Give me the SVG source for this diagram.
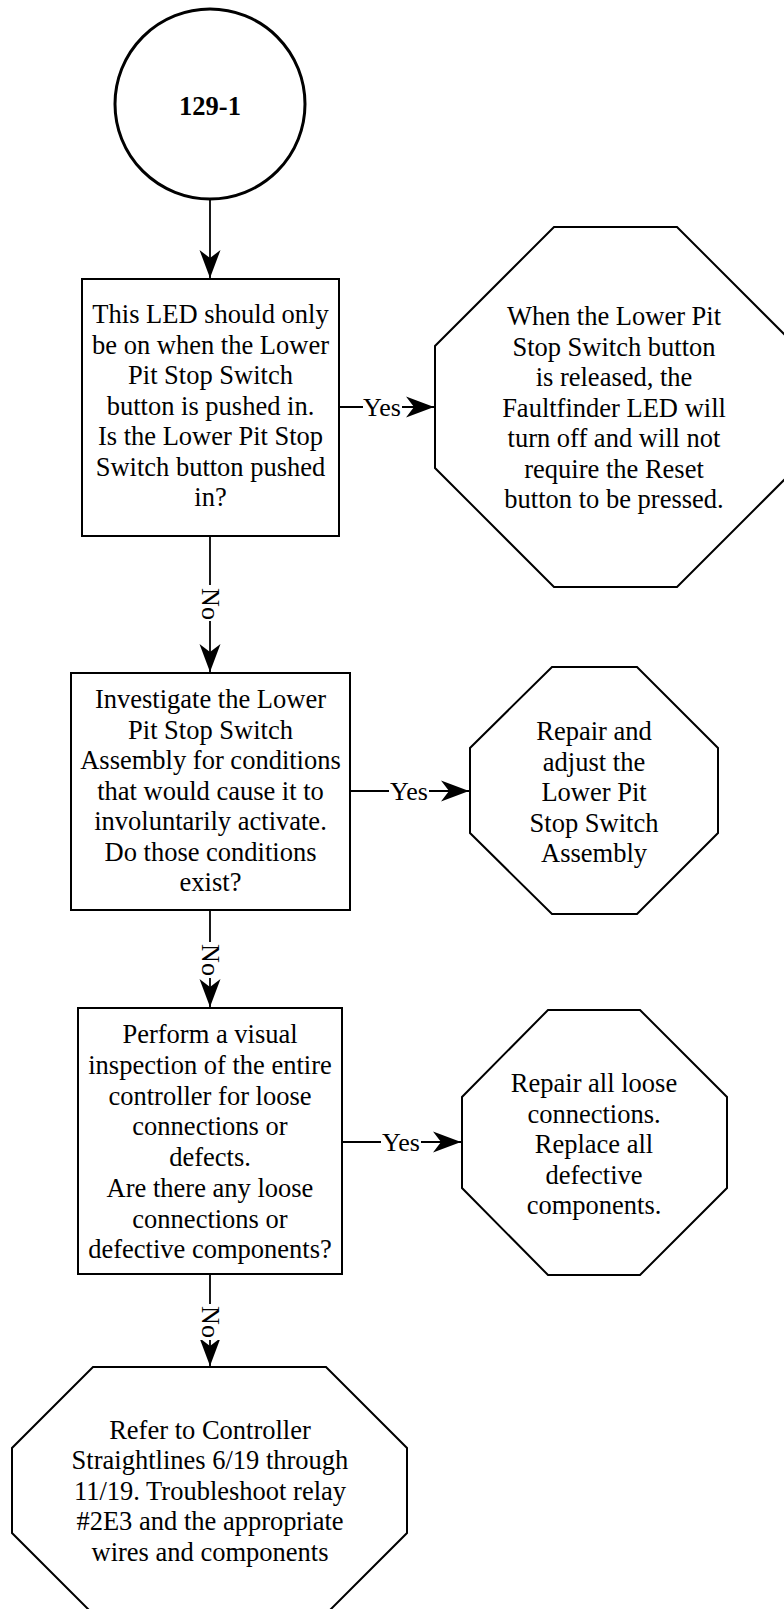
<svg xmlns="http://www.w3.org/2000/svg" width="784" height="1609" viewBox="0 0 784 1609">
  <defs>
    <style>
      .shape { fill: #ffffff; stroke: #000000; stroke-width: 2; }
      .start { fill: #ffffff; stroke: #000000; stroke-width: 3; }
      .body { font-family: "Liberation Serif", "Times New Roman", serif; font-size: 26.5px; fill: #000000; text-anchor: middle; }
      .title { font-family: "Liberation Serif", "Times New Roman", serif; font-size: 26.5px; font-weight: bold; fill: #000000; text-anchor: middle; }
      .edge { fill: none; stroke: #000000; stroke-width: 1.8; }
      .label { font-family: "Liberation Serif", "Times New Roman", serif; font-size: 26px; fill: #000000; text-anchor: middle; }
      .labelbg { fill: #ffffff; stroke: none; }
    </style>
    <marker id="arrow" viewBox="-28 -11 28 22" refX="0" refY="0" markerWidth="28" markerHeight="22" markerUnits="userSpaceOnUse" orient="auto">
      <path d="M0,0 L-28,-10.5 L-20,0 L-28,10.5 Z" fill="#000000"/>
    </marker>
  </defs>

  <rect x="0" y="0" width="784" height="1609" fill="#ffffff"/>

  <!-- connectors -->
  <g id="connectors">
    <line class="edge" x1="210" y1="199" x2="210" y2="278" marker-end="url(#arrow)"/>

    <line class="edge" x1="339" y1="407" x2="434" y2="407" marker-end="url(#arrow)"/>
    <rect class="labelbg" x="363" y="396" width="39" height="22"/>
    <text class="label" x="382" y="416">Yes</text>

    <line class="edge" x1="210" y1="536" x2="210" y2="672" marker-end="url(#arrow)"/>
    <rect class="labelbg" x="199" y="585" width="22" height="36"/>
    <text class="label" transform="translate(201.5,604) rotate(90)" x="0" y="0">No</text>

    <line class="edge" x1="350" y1="791" x2="469" y2="791" marker-end="url(#arrow)"/>
    <rect class="labelbg" x="389" y="780" width="40" height="22"/>
    <text class="label" x="409" y="800">Yes</text>

    <line class="edge" x1="210" y1="910" x2="210" y2="1007" marker-end="url(#arrow)"/>
    <rect class="labelbg" x="199" y="942" width="22" height="36"/>
    <text class="label" transform="translate(201.5,960) rotate(90)" x="0" y="0">No</text>

    <line class="edge" x1="342" y1="1142" x2="461" y2="1142" marker-end="url(#arrow)"/>
    <rect class="labelbg" x="381" y="1131" width="40" height="22"/>
    <text class="label" x="401" y="1151">Yes</text>

    <line class="edge" x1="210" y1="1274" x2="210" y2="1366" marker-end="url(#arrow)"/>
    <rect class="labelbg" x="199" y="1304" width="22" height="36"/>
    <text class="label" transform="translate(201.5,1322) rotate(90)" x="0" y="0">No</text>
  </g>

  <!-- start connector -->
  <g id="start">
    <circle class="start" cx="210" cy="104" r="95"/>
    <text class="title" x="210" y="115">129-1</text>
  </g>

  <!-- question: is the button pushed in -->
  <g id="q-button-pushed">
    <rect class="shape" x="82" y="279" width="257" height="257"/>
    <text class="body" x="210.5" y="323">This LED should only</text>
    <text class="body" x="210.5" y="353.5">be on when the Lower</text>
    <text class="body" x="210.5" y="384">Pit Stop Switch</text>
    <text class="body" x="210.5" y="414.5">button is pushed in.</text>
    <text class="body" x="210.5" y="445">Is the Lower Pit Stop</text>
    <text class="body" x="210.5" y="475.5">Switch button pushed</text>
    <text class="body" x="210.5" y="506">in?</text>
  </g>

  <!-- result: LED turns off on release -->
  <g id="r-release">
    <polygon class="shape" points="554,227 677,227 796,346 796,468 677,587 554,587 435,468 435,346"/>
    <text class="body" x="614" y="325">When the Lower Pit</text>
    <text class="body" x="614" y="355.5">Stop Switch button</text>
    <text class="body" x="614" y="386">is released, the</text>
    <text class="body" x="614" y="416.5">Faultfinder LED will</text>
    <text class="body" x="614" y="447">turn off and will not</text>
    <text class="body" x="614" y="477.5">require the Reset</text>
    <text class="body" x="614" y="508">button to be pressed.</text>
  </g>

  <!-- question: switch assembly conditions -->
  <g id="q-assembly">
    <rect class="shape" x="71" y="673" width="279" height="237"/>
    <text class="body" x="210.5" y="708">Investigate the Lower</text>
    <text class="body" x="210.5" y="738.5">Pit Stop Switch</text>
    <text class="body" x="210.5" y="769">Assembly for conditions</text>
    <text class="body" x="210.5" y="799.5">that would cause it to</text>
    <text class="body" x="210.5" y="830">involuntarily activate.</text>
    <text class="body" x="210.5" y="860.5">Do those conditions</text>
    <text class="body" x="210.5" y="891">exist?</text>
  </g>

  <!-- result: repair switch assembly -->
  <g id="r-repair-assembly">
    <polygon class="shape" points="552,667 637,667 718,748 718,833 637,914 552,914 470,833 470,748"/>
    <text class="body" x="594" y="740">Repair and</text>
    <text class="body" x="594" y="770.5">adjust the</text>
    <text class="body" x="594" y="801">Lower Pit</text>
    <text class="body" x="594" y="831.5">Stop Switch</text>
    <text class="body" x="594" y="862">Assembly</text>
  </g>

  <!-- question: loose connections -->
  <g id="q-inspection">
    <rect class="shape" x="78" y="1008" width="264" height="266"/>
    <text class="body" x="210" y="1043">Perform a visual</text>
    <text class="body" x="210" y="1073.75">inspection of the entire</text>
    <text class="body" x="210" y="1104.5">controller for loose</text>
    <text class="body" x="210" y="1135.25">connections or</text>
    <text class="body" x="210" y="1166">defects.</text>
    <text class="body" x="210" y="1196.75">Are there any loose</text>
    <text class="body" x="210" y="1227.5">connections or</text>
    <text class="body" x="210" y="1258.25">defective components?</text>
  </g>

  <!-- result: repair connections -->
  <g id="r-repair-connections">
    <polygon class="shape" points="548,1010 640,1010 727,1097 727,1188 640,1275 548,1275 462,1188 462,1097"/>
    <text class="body" x="594" y="1092">Repair all loose</text>
    <text class="body" x="594" y="1122.5">connections.</text>
    <text class="body" x="594" y="1153">Replace all</text>
    <text class="body" x="594" y="1183.5">defective</text>
    <text class="body" x="594" y="1214">components.</text>
  </g>

  <!-- result: refer to straightlines -->
  <g id="r-straightlines">
    <polygon class="shape" points="93,1367 326,1367 407,1448 407,1533 326,1614 93,1614 12,1533 12,1448"/>
    <text class="body" x="210" y="1438.5">Refer to Controller</text>
    <text class="body" x="210" y="1469">Straightlines 6/19 through</text>
    <text class="body" x="210" y="1499.5">11/19. Troubleshoot relay</text>
    <text class="body" x="210" y="1530">#2E3 and the appropriate</text>
    <text class="body" x="210" y="1560.5">wires and components</text>
  </g>
</svg>
